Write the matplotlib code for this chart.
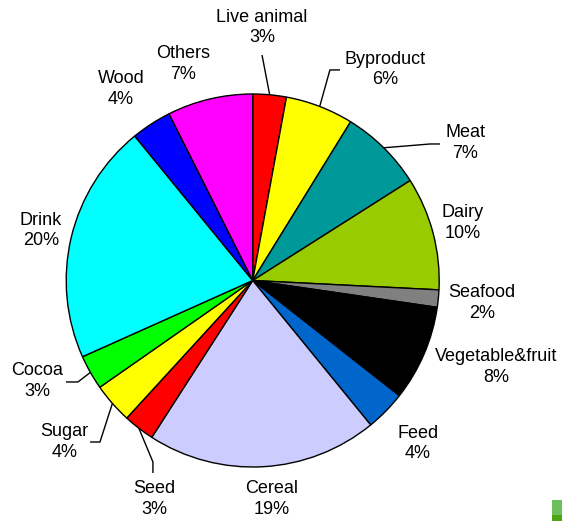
import matplotlib
matplotlib.use("Agg")
import matplotlib.pyplot as plt
import numpy as np
from matplotlib.patches import Rectangle

categories = ["Live animal", "Byproduct", "Meat", "Dairy", "Seafood", "Vegetable&fruit",
              "Feed", "Cereal", "Seed", "Sugar", "Cocoa", "Drink", "Wood", "Others"]
values = [2.9, 5.9, 7.2, 9.8, 1.5, 8.3, 3.5, 20.0, 2.7, 3.5, 3.0, 20.8, 3.5, 7.4]
pct_labels = ["3%", "6%", "7%", "10%", "2%", "8%", "4%", "19%", "3%", "4%", "3%", "20%", "4%", "7%"]

colors = ["#FF0000", "#FFFF00", "#009999", "#99CC00", "#808080", "#000000",
          "#0066CC", "#CCCCFF", "#FF0000", "#FFFF00", "#00FF00", "#00FFFF", "#0000FF", "#FF00FF"]

# label text centres (data units, pie radius = 1)
label_pos = {
    "Live animal": (0.050, 1.357),
    "Byproduct": (0.711, 1.131),
    "Meat": (1.139, 0.737),
    "Dairy": (1.125, 0.308),
    "Seafood": (1.229, -0.121),
    "Vegetable&fruit": (1.305, -0.464),
    "Feed": (0.884, -0.874),
    "Cereal": (0.103, -1.172),
    "Seed": (-0.527, -1.172),
    "Sugar": (-1.009, -0.866),
    "Cocoa": (-1.154, -0.539),
    "Drink": (-1.135, 0.268),
    "Wood": (-0.706, 1.027),
    "Others": (-0.374, 1.161),
}
# leader line paths after the arc anchor
leaders = {
    "Live animal": [(0.050, 1.209)],
    "Byproduct": [(0.414, 1.129), (0.468, 1.129)],
    "Meat": [(0.951, 0.732), (1.004, 0.732)],
    "Cocoa": [(-0.937, -0.544), (-1.001, -0.544)],
    "Sugar": [(-0.819, -0.866), (-0.872, -0.866)],
    "Seed": [(-0.535, -0.973), (-0.535, -1.032)],
}

plt.rcParams['font.family'] = ['Liberation Sans', 'DejaVu Sans']

W, H = 562, 521
fig = plt.figure(figsize=(W / 100, H / 100), dpi=100)
ax = fig.add_axes([0, 0, 1, 1])
cx, cy, r = 252.7, 280.5, 186.5

wedges, _ = ax.pie(values, colors=colors, startangle=90, counterclock=False,
                   radius=1.0, wedgeprops=dict(edgecolor="black", linewidth=1.0))

ax.set_xlim(-cx / r, (W - cx) / r)
ax.set_ylim(-(H - cy) / r, cy / r)
ax.set_aspect('auto')
ax.axis('off')

for w, cat, pl in zip(wedges, categories, pct_labels):
    x, y = label_pos[cat]
    ax.text(x, y, f"{cat}\n{pl}", ha="center", va="center", fontsize=13,
            linespacing=1.25, color="black")
    if cat in leaders:
        th = np.deg2rad((w.theta1 + w.theta2) / 2)
        pts = [(np.cos(th), np.sin(th))] + leaders[cat]
        xs, ys = zip(*pts)
        ax.plot(xs, ys, color="black", lw=1.0, solid_capstyle="butt")

# small green marker in the corner
fig.patches.append(Rectangle((552 / W, 0), 10 / W, 21 / H, transform=fig.transFigure,
                             facecolor="#6CBF5C", edgecolor="none"))
fig.patches.append(Rectangle((552 / W, 0), 10 / W, 6 / H, transform=fig.transFigure,
                             facecolor="#4CA614", edgecolor="none"))

fig.savefig("out.png", dpi=100)
